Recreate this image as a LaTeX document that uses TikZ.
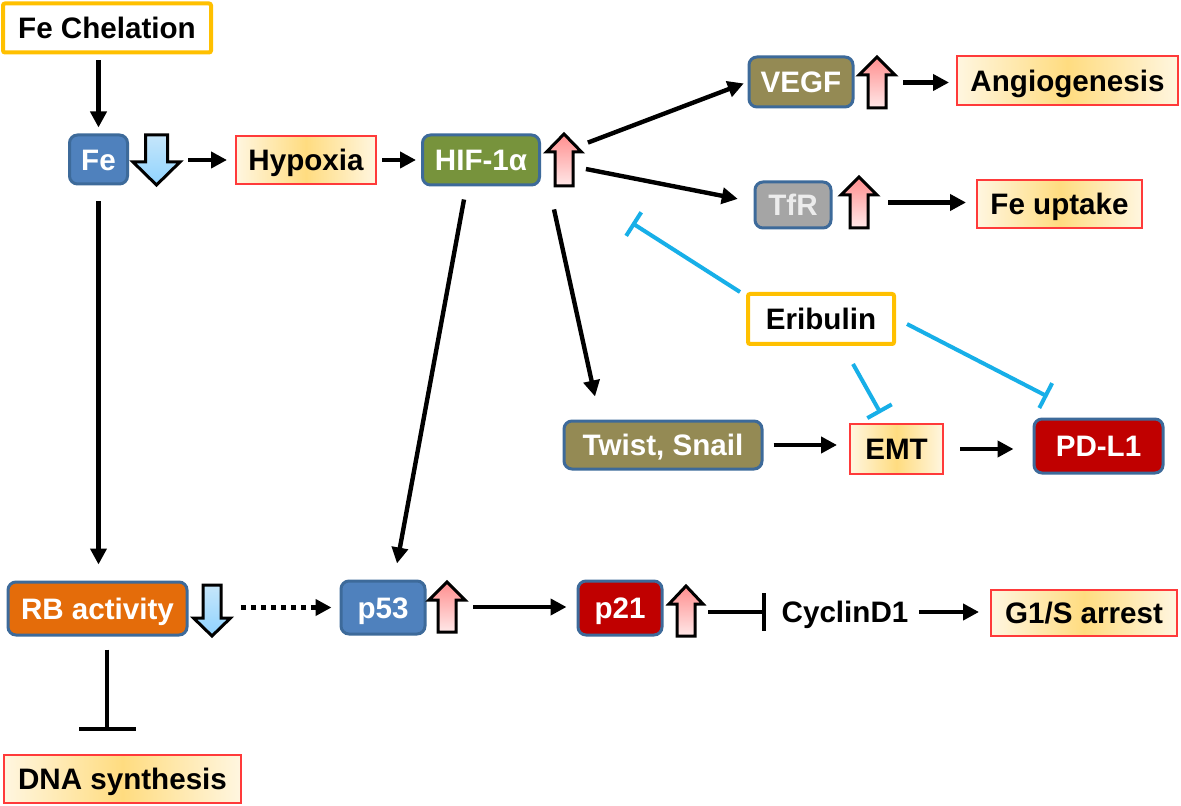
\documentclass[tikz,border=0pt]{standalone}
\usepackage{fontspec}
\setmainfont{Liberation Sans}
\usetikzlibrary{arrows.meta}
\definecolor{boxblue}{HTML}{4F81BD}
\definecolor{edgeblue}{HTML}{3D6A9A}
\definecolor{hifgreen}{HTML}{77933C}
\definecolor{olivebox}{HTML}{948A54}
\definecolor{tfrgray}{HTML}{A5A5A5}
\definecolor{rborange}{HTML}{E46C0A}
\definecolor{darkred}{HTML}{C00000}
\definecolor{gold}{HTML}{FFC000}
\definecolor{inhib}{HTML}{17AFE8}
\definecolor{outred}{HTML}{FF3A3A}
\definecolor{outl}{HTML}{FFF6E0}
\definecolor{outm}{HTML}{FFDC80}
\definecolor{pinktop}{HTML}{FF8E8E}
\definecolor{pinkbot}{HTML}{FFE8E8}
\definecolor{bluetop}{HTML}{C6E6FA}
\definecolor{bluebot}{HTML}{8FD3FF}
% #1 style, #2 name, #3 cx, #4 top, #5 bottom, #6 shaft half, #7 head half, #8 head length
\newcommand{\BlockUp}[8]{%
  \path[#1] (#3-#6,#5) -- (#3-#6,#4+#8) -- (#3-#7,#4+#8) -- (#3,#4) -- (#3+#7,#4+#8) -- (#3+#6,#4+#8) -- (#3+#6,#5) -- cycle;
  \node[inner sep=0pt, minimum width={#7*1pt}, minimum height={(#5-#4)*0.5pt}] (#2) at (#3,{(#4+#5)/2}) {};}
\newcommand{\BlockDown}[8]{%
  \path[#1] (#3-#6,#4) -- (#3-#6,#5-#8) -- (#3-#7,#5-#8) -- (#3,#5) -- (#3+#7,#5-#8) -- (#3+#6,#5-#8) -- (#3+#6,#4) -- cycle;
  \node[inner sep=0pt, minimum width={#7*1pt}, minimum height={(#5-#4)*0.5pt}] (#2) at (#3,{(#4+#5)/2}) {};}
\tikzset{
  wh/.style 2 args={minimum width=#1*0.5pt, minimum height=#2*0.5pt},
  capc/.style={text height=10.6pt, text depth=0pt},
  gene/.style={capc, draw=edgeblue, line width=1.5pt, rounded corners=4pt, text=white, inner sep=0pt},
  outc/.style={capc, draw=outred, line width=1pt, left color=outl, right color=outl, middle color=outm, inner sep=0pt, text=black},
  drug/.style={capc, draw=gold, line width=2pt, fill=white, inner sep=0pt, rounded corners=1pt, text=black},
  arr/.style={line width=2.2pt, -{Triangle[length=8pt,width=8pt]}},
  dotarr/.style={line width=2.5pt, dash pattern=on 2.5pt off 2.5pt, -{Triangle[length=8pt,width=8pt]}},
  inh/.style={draw=inhib, line width=2pt, -{Bar[width=14pt]}},
  blk/.style={line width=2.2pt, -{Bar[width=19pt]}},
  pinkarr/.style={draw=black, line width=1.5pt, top color=pinktop, bottom color=pinkbot},
  bluearr/.style={draw=black, line width=1.5pt, top color=bluetop, bottom color=bluebot},
}
\begin{document}
\begin{tikzpicture}[x=0.5pt,y=-0.5pt, font=\fontsize{14.8}{17}\selectfont\bfseries]
\useasboundingbox[fill=white] (0,0) rectangle (1181,806);

% nodes
\node[drug, wh={208}{49}] (chel) at (107,28) {Fe Chelation};
\node[gene, fill=boxblue, wh={58}{49}] (fe) at (98.5,159.5) {Fe};
\BlockDown{bluearr}{feA}{156.5}{135}{185}{11}{23.5}{23}
\node[outc, wh={140}{48}] (hyp) at (306,160) {Hypoxia};
\node[gene, fill=hifgreen, wh={117}{50}] (hif) at (481,160) {HIF-1α};
\BlockUp{pinkarr}{hifA}{564}{134}{186}{9}{17.5}{18}
\node[gene, fill=olivebox, wh={104}{50}] (vegf) at (801,82) {VEGF};
\BlockUp{pinkarr}{vegfA}{877}{57}{108}{9}{18}{18}
\node[outc, wh={221}{49}] (angio) at (1067.5,81) {Angiogenesis};
\node[gene, fill=tfrgray, text=gray!15, wh={76}{46}] (tfr) at (793,205) {TfR};
\BlockUp{pinkarr}{tfrA}{859}{177}{228}{9}{18}{18}
\node[outc, wh={165}{48}] (feup) at (1059.5,204) {Fe uptake};
\node[drug, wh={146}{50}] (erib) at (821,319) {Eribulin};
\node[gene, fill=olivebox, wh={198}{48}] (twist) at (663,445) {Twist, Snail};
\node[outc, wh={93}{50}] (emt) at (896.5,449) {EMT};
\node[gene, fill=darkred, wh={129}{54}] (pdl) at (1098.5,446) {PD-L1};
\node[gene, fill=rborange, wh={179}{53}] (rb) at (97.5,608.5) {RB activity};
\BlockDown{bluearr}{rbA}{212}{585}{636}{9}{18.5}{18}
\node[gene, fill=boxblue, wh={84}{53}] (p53) at (383,607.5) {p53};
\BlockUp{pinkarr}{p53A}{447}{582}{632}{9}{18}{18}
\node[gene, fill=darkred, wh={84}{54}] (p21) at (620,608) {p21};
\BlockUp{pinkarr}{p21A}{686}{586}{636}{9}{17}{18}
\node[capc, inner sep=0pt] (cyc) at (845,612) {CyclinD1};
\node[outc, wh={186}{46}] (g1s) at (1084,613) {G1/S arrest};
\node[outc, wh={237}{48}] (dna) at (122.5,779) {DNA synthesis};
\coordinate (inhHif) at (632,223);

% connectors
\draw[arr] ([yshift=-3pt]chel.south -| fe.north) -- ([yshift=3pt]fe.north);
\draw[arr] ([yshift=-8pt]fe.south) -- ([yshift=8pt]rb.north -| fe.south);
\draw[arr, shorten <=4pt, shorten >=4pt] (feA) -- (hyp);
\draw[arr, shorten <=2.5pt, shorten >=2.5pt] (hyp) -- (hif);
\draw[arr, shorten >=2pt] ([shift={(3pt,-4.5pt)}]hifA.north east) -- (vegf.west);
\draw[arr, shorten >=8pt] ([shift={(2pt,-4.5pt)}]hifA.east) -- ([yshift=1.5pt]tfr.west);
\draw[arr, shorten <=4pt, shorten >=3.5pt] (vegfA) -- (vegfA -| angio.west);
\draw[arr, shorten <=5.5pt, shorten >=5pt] (tfrA) -- (tfrA -| feup.west);
\draw[arr] ([xshift=-8.5pt,yshift=-6.5pt]hif.south) -- ([xshift=7pt,yshift=8pt]p53.north);
\draw[arr] ([shift={(-5pt,-11.5pt)}]hifA.south) -- ([shift={(-34pt,11.5pt)}]twist.north);
\draw[inh] ([xshift=-3pt]erib.north west) -- (inhHif);
\draw[inh] ([xshift=16pt,yshift=-9pt]erib.south) -- ([shift={(-8pt,5pt)}]emt.north);
\draw[inh] ([shift={(5.5pt,-2.5pt)}]erib.east) -- ([shift={(-25.5pt,10.5pt)}]pdl.north);
\draw[arr, shorten <=5pt, shorten >=6pt] (twist) -- (twist -| emt.west);
\draw[arr, shorten <=8pt, shorten >=9.5pt] (emt) -- (emt -| pdl.west);
\draw[dotarr, shorten <=5pt, shorten >=4pt] (rbA.east |- p53.west) -- (p53.west);
\draw[arr, shorten <=4pt, shorten >=5pt] (p53A) -- (p53A -| p21.west);
\draw[blk, shorten <=2.5pt, shorten >=7.5pt] (p21A.east |- cyc.west) -- (cyc.west);
\draw[arr, shorten <=5pt, shorten >=5.5pt] (cyc) -- (cyc -| g1s.west);
\draw[line width=2.2pt, -{Bar[width=28.5pt]}] ([xshift=4.75pt,yshift=-6.5pt]rb.south) -- ([shift={(-7.75pt,11.5pt)}]dna.north);
\end{tikzpicture}
\end{document}
